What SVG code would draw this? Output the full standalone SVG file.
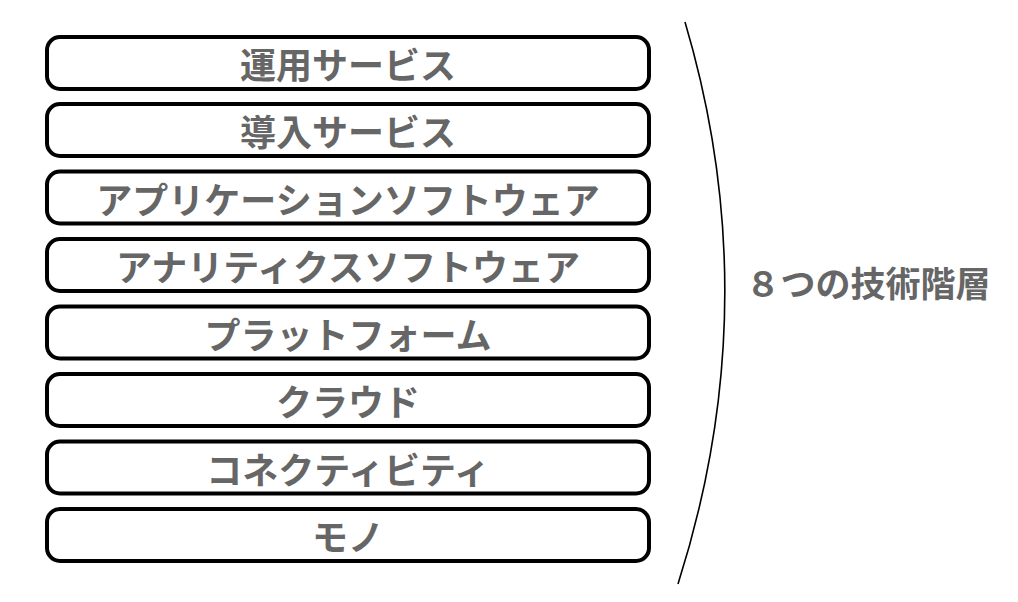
<svg xmlns="http://www.w3.org/2000/svg" width="1018" height="602" viewBox="0 0 1018 602">
<style>
.box{fill:#fff;stroke:#000;stroke-width:4}
.lbl{font-family:"Noto Sans CJK JP","Noto Sans",sans-serif;font-weight:bold;font-size:36px;fill:#666;text-anchor:middle;dominant-baseline:central}
.ttl{font-size:35px}
.brace{fill:none;stroke:#000;stroke-width:1.6}
</style>
<rect width="1018" height="602" fill="#fff"/>
<g id="connectors">
<path class="brace" d="M685,22 Q768,302 678,584"/>
</g>
<g id="n1"><rect class="box" x="47" y="37" width="602" height="52" rx="13"/><text class="lbl" x="348" y="63">運用サービス</text></g>
<g id="n2"><rect class="box" x="47" y="104" width="602" height="52" rx="13"/><text class="lbl" x="348" y="130">導入サービス</text></g>
<g id="n3"><rect class="box" x="47" y="171.5" width="602" height="52" rx="13"/><text class="lbl" x="348" y="197.5">アプリケーションソフトウェア</text></g>
<g id="n4"><rect class="box" x="47" y="239" width="602" height="52" rx="13"/><text class="lbl" x="348" y="265">アナリティクスソフトウェア</text></g>
<g id="n5"><rect class="box" x="47" y="306.5" width="602" height="52" rx="13"/><text class="lbl" x="348" y="332.5">プラットフォーム</text></g>
<g id="n6"><rect class="box" x="47" y="374" width="602" height="52" rx="13"/><text class="lbl" x="348" y="400">クラウド</text></g>
<g id="n7"><rect class="box" x="47" y="441.5" width="602" height="52" rx="13"/><text class="lbl" x="348" y="467.5">コネクティビティ</text></g>
<g id="n8"><rect class="box" x="47" y="509" width="602" height="52" rx="13"/><text class="lbl" x="348" y="535">モノ</text></g>
<g id="title"><text class="lbl ttl" x="868" y="281">８つの技術階層</text></g>
</svg>
